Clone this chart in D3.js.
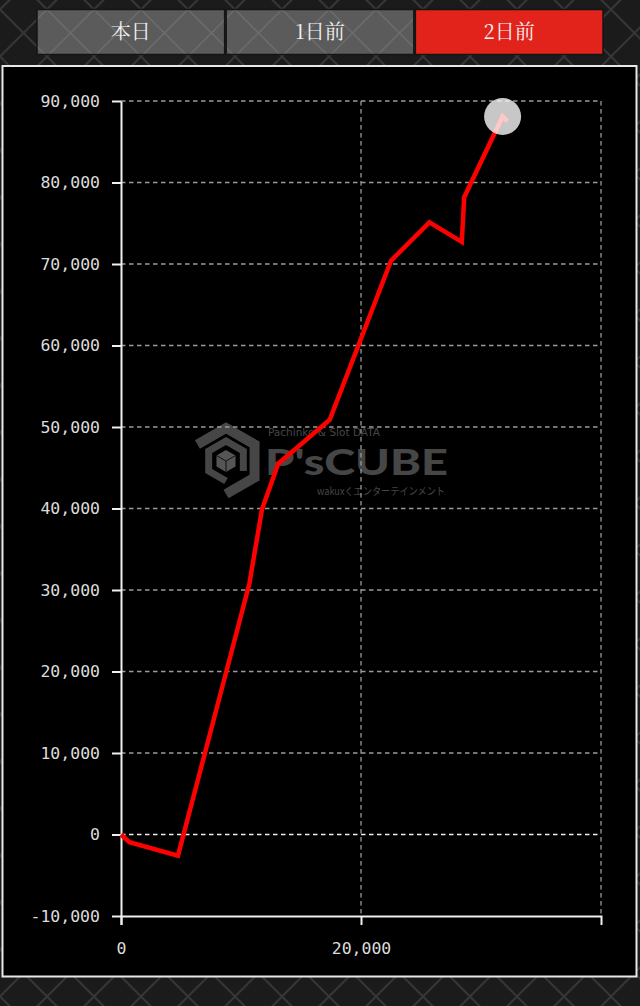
<!DOCTYPE html>
<html>
<head>
<meta charset="utf-8">
<script src="https://cdn.jsdelivr.net/npm/d3@7"></script>
<style>
  html, body { margin: 0; padding: 0; background: #1c1c1c; }
  svg { display: block; }
</style>
</head>
<body>
<svg id="chart" width="640" height="1006"></svg>
<script>
// ---- data ----
const tabLabels = ["本日", "1日前", "2日前"];
const activeTab = 2;
const gamesX = [0, 700, 4750, 10700, 11750, 13100, 17400, 22500, 25700, 28400, 28600, 31800, 32200];
const diffY  = [0, -950, -2600, 30800, 39900, 45500, 50900, 70400, 75100, 72700, 78200, 88100, 87500];
const yTicks = [-10000, 0, 10000, 20000, 30000, 40000, 50000, 60000, 70000, 80000, 90000];
const yTickLabels = ["-10,000", "0", "10,000", "20,000", "30,000", "40,000", "50,000", "60,000", "70,000", "80,000", "90,000"];
const xTicks = [0, 20000];
const xTickLabels = ["0", "20,000"];
const xGrid = [20000, 40000];
const xDomain = [0, 40000];
const yDomain = [-10000, 90000];

const svg = d3.select("#chart");
const W = 640, H = 1006;

// ---- background pattern ----
const defs = svg.append("defs");
const pat = defs.append("pattern").attr("id", "diamonds")
  .attr("width", 47).attr("height", 47).attr("patternUnits", "userSpaceOnUse")
  .attr("x", 0).attr("y", -14);
pat.append("rect").attr("width", 47).attr("height", 47).attr("fill", "#1b1b1b");
pat.append("path").attr("d", "M0,23.5L23.5,0L47,23.5L23.5,47Z")
  .attr("fill", "none").attr("stroke", "#363636").attr("stroke-width", 2);
const pat2 = defs.append("pattern").attr("id", "btnpat")
  .attr("width", 47).attr("height", 47).attr("patternUnits", "userSpaceOnUse")
  .attr("x", 0).attr("y", -14);
pat2.append("rect").attr("width", 47).attr("height", 47).attr("fill", "#5b5b5b");
pat2.append("path").attr("d", "M0,23.5L23.5,0L47,23.5L23.5,47Z")
  .attr("fill", "none").attr("stroke", "#6c6c6c").attr("stroke-width", 1.5);

svg.append("rect").attr("width", W).attr("height", H).attr("fill", "url(#diamonds)");

// ---- tabs ----
const tabScale = d3.scaleBand().domain(d3.range(tabLabels.length)).range([37, 603]).paddingInner(0.008);
const tabs = svg.append("g").selectAll("g").data(tabLabels).join("g");
tabs.append("rect")
  .attr("x", (d, i) => tabScale(i)).attr("y", 9.5)
  .attr("width", tabScale.bandwidth()).attr("height", 45)
  .attr("fill", (d, i) => i === activeTab ? "#e2231c" : "url(#btnpat)")
  .attr("stroke", "#151515").attr("stroke-width", 1.5);
tabs.append("text")
  .attr("x", (d, i) => tabScale(i) + tabScale.bandwidth() / 2).attr("y", 39)
  .attr("text-anchor", "middle")
  .attr("font-family", "'Noto Serif CJK JP', 'Liberation Serif', 'Noto Sans CJK JP', serif")
  .attr("font-size", 20).attr("fill", "#f2f2f2")
  .text(d => d);

// ---- panel ----
svg.append("rect").attr("x", 2.5).attr("y", 66).attr("width", 634).attr("height", 910.5)
  .attr("fill", "#000").attr("stroke", "#e8e8e8").attr("stroke-width", 2);

// ---- scales ----
const x = d3.scaleLinear().domain(xDomain).range([121, 601]);
const y = d3.scaleLinear().domain(yDomain).range([916, 101]);

// ---- watermark ----
const wm = svg.append("g").attr("fill", "#464646");
const cx = 226, cy = 461;
const hex = (r) => d3.range(6).map(k => {
  const a = (Math.PI / 3) * k - Math.PI / 2;
  return [cx + r * Math.cos(a), cy + r * Math.sin(a)];
});
const h1 = hex(33);
wm.append("path")
  .attr("d", "M" + [h1[5], h1[0], h1[1], h1[2], h1[3]].map(p => p.join(",")).join("L"))
  .attr("fill", "none").attr("stroke", "#464646").attr("stroke-width", 10).attr("stroke-linejoin", "miter");
const h2 = hex(20);
wm.append("path")
  .attr("d", "M" + [h2[3], h2[4], h2[5], h2[0], h2[1], h2[2]].map(p => p.join(",")).join("L"))
  .attr("fill", "none").attr("stroke", "#464646").attr("stroke-width", 7);
const h3 = hex(11);
wm.append("path").attr("d", "M" + h3.map(p => p.join(",")).join("L") + "Z").attr("fill", "#555");
wm.append("path").attr("d", `M${cx},${cy}L${h3[1].join(",")}M${cx},${cy}L${h3[3].join(",")}M${cx},${cy}L${h3[5].join(",")}`)
  .attr("stroke", "#111").attr("stroke-width", 1);
wm.append("text").attr("x", 268).attr("y", 436)
  .attr("font-family", "'DejaVu Sans', sans-serif").attr("font-size", 11)
  .attr("textLength", 112).attr("lengthAdjust", "spacingAndGlyphs")
  .text("Pachinko & Slot DATA");
wm.append("text").attr("x", 265).attr("y", 475)
  .attr("font-family", "Lato, 'DejaVu Sans', sans-serif").attr("font-weight", 900).attr("font-size", 36)
  .attr("textLength", 183).attr("lengthAdjust", "spacingAndGlyphs")
  .text("P'sCUBE");
wm.append("text").attr("x", 317).attr("y", 495)
  .attr("font-family", "'Noto Sans CJK JP', sans-serif").attr("font-size", 10.5)
  .attr("textLength", 128).attr("lengthAdjust", "spacingAndGlyphs")
  .text("wakuxくエンターテインメント");

// ---- grid ----
const grid = svg.append("g");
grid.selectAll("line.h").data(yTicks.filter(v => v > yDomain[0])).join("line")
  .attr("class", "h")
  .attr("x1", x(xDomain[0])).attr("x2", x(xDomain[1]))
  .attr("y1", d => y(d)).attr("y2", d => y(d))
  .attr("stroke", d => d === 0 ? "#f0f0f0" : "#9a9a9a")
  .attr("stroke-width", d => d === 0 ? 1.5 : 1.3)
  .attr("stroke-dasharray", "4.5,3.5");
grid.selectAll("line.v").data(xGrid).join("line")
  .attr("class", "v")
  .attr("x1", d => x(d)).attr("x2", d => x(d))
  .attr("y1", y(yDomain[1])).attr("y2", y(yDomain[0]))
  .attr("stroke", "#9a9a9a").attr("stroke-width", 1.3)
  .attr("stroke-dasharray", "4.5,3.5");

// ---- axes ----
const fontMono = "'DejaVu Sans Mono', monospace";
const yAxis = svg.append("g").attr("transform", `translate(${x(0)},0)`)
  .call(d3.axisLeft(y).tickValues(yTicks).tickSize(9).tickSizeOuter(0).tickPadding(12)
    .tickFormat((d, i) => yTickLabels[i]));
const xAxis = svg.append("g").attr("transform", `translate(0,${y(yDomain[0])})`)
  .call(d3.axisBottom(x).tickValues(xTicks).tickSize(9).tickSizeOuter(9).tickPadding(17)
    .tickFormat((d, i) => xTickLabels[i]));
[yAxis, xAxis].forEach(g => {
  g.select(".domain").attr("stroke", "#f0f0f0").attr("stroke-width", 2);
  g.selectAll(".tick line").attr("stroke", "#f0f0f0").attr("stroke-width", 2);
  g.selectAll(".tick text").attr("fill", "#dcdcdc").attr("font-family", fontMono).attr("font-size", 16.5);
});

// ---- line ----
const pts = gamesX.map((g, i) => [g, diffY[i]]);
svg.append("path").datum(pts)
  .attr("d", d3.line().x(d => x(d[0])).y(d => y(d[1])))
  .attr("fill", "none").attr("stroke", "#ff0000").attr("stroke-width", 4.5)
  .attr("stroke-linejoin", "miter").attr("stroke-miterlimit", 4);

// ---- end marker ----
const peak = pts[d3.maxIndex(pts, d => d[1])];
svg.append("circle").attr("cx", x(peak[0])).attr("cy", y(peak[1])).attr("r", 18.5)
  .attr("fill", "#ffffff").attr("fill-opacity", 0.78);
</script>
</body>
</html>
